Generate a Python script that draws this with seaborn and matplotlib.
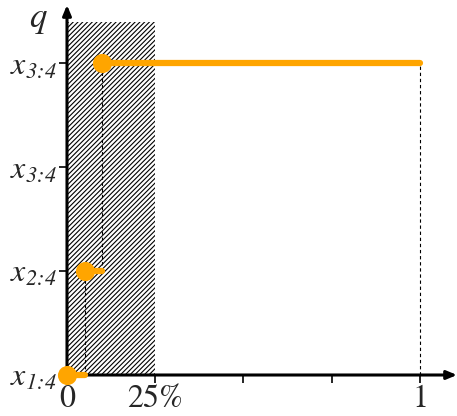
import matplotlib
matplotlib.use("Agg")
import matplotlib.pyplot as plt
import seaborn as sns
import pandas as pd

# data
seg_start = [0.0, 0.05, 0.10]
seg_end = [0.05, 0.10, 1.00]
seg_level = [0, 1, 3]
ytick_pos = [0, 1, 2, 3]
ytick_labels = [r"$x_{1\!:\!4}$", r"$x_{2\!:\!4}$", r"$x_{3\!:\!4}$", r"$x_{3\!:\!4}$"]
xtick_pos = [0, 0.25, 0.5, 0.75, 1.0]
xtick_labels = ["0", "25%", "", "", "1"]
shade_x = [0.0, 0.25]
shade_top = 3.4

sns.set_style("white")
plt.rcParams["font.family"] = ["STIXGeneral", "DejaVu Serif"]
plt.rcParams["mathtext.fontset"] = "custom"
plt.rcParams["mathtext.it"] = "STIXGeneral:italic"
plt.rcParams["mathtext.rm"] = "STIXGeneral:italic"
plt.rcParams["mathtext.default"] = "it"
plt.rcParams["hatch.linewidth"] = 0.8

W, H = 457, 416
fig = plt.figure(figsize=(W / 100, H / 100), dpi=100)
x0, y0 = 67, 375
xmax, ymax = 1.105, 3.56
ax = fig.add_axes([x0 / W, (H - y0) / H, (W - x0) / W, (y0 - 5) / H])
ax.set_xlim(0, xmax)
ax.set_ylim(0, ymax)
for s in ax.spines.values():
    s.set_visible(False)

# hatched region
ax.fill_between(shade_x, 0, shade_top, facecolor="white", edgecolor="black",
                hatch="/" * 7, linewidth=0, zorder=1)

# dashed guides
dash = dict(color="black", lw=0.8, ls=(0, (3, 2.5)), zorder=2)
for i in range(len(seg_start)):
    if i > 0:
        ax.plot([seg_start[i], seg_start[i]], [seg_level[i - 1], seg_level[i]], **dash)
ax.plot([seg_end[-1], seg_end[-1]], [0, seg_level[-1]], **dash)
n_dash = len(ax.lines)

# segments
rows = []
for k, (a, b, lv) in enumerate(zip(seg_start, seg_end, seg_level)):
    rows.append(dict(seg=k, x=a, y=lv))
    rows.append(dict(seg=k, x=b, y=lv))
df = pd.DataFrame(rows)
sns.lineplot(data=df, x="x", y="y", units="seg", estimator=None, color="#FFA500",
             lw=4.5, ax=ax, legend=False)
for l in ax.lines[n_dash:]:
    l.set_clip_on(False)
    l.set_zorder(6)
pts = pd.DataFrame(dict(x=seg_start, y=seg_level))
sns.scatterplot(data=pts, x="x", y="y", color="#FFA500", s=190, linewidth=0,
                ax=ax, legend=False)
ax.collections[-1].set_clip_on(False)
ax.collections[-1].set_zorder(7)

# axes arrows
for tgt in [(xmax, 0), (0, ymax)]:
    ax.annotate("", xy=tgt, xytext=(0, 0), xycoords="data",
                arrowprops=dict(arrowstyle="-|>,head_length=0.6,head_width=0.25", lw=2.2,
                                color="black", shrinkA=0, shrinkB=0),
                annotation_clip=False, zorder=5)

ax.set_xticks(xtick_pos)
ax.set_xticklabels(xtick_labels)
ax.set_yticks(ytick_pos)
ax.set_yticklabels(ytick_labels)
ax.tick_params(axis="both", direction="out", length=6, width=1.2, color="black",
               labelsize=23, pad=1, left=True, bottom=True)
ax.set_xlabel("")
ax.set_ylabel("")
fig.text(38 / W, 1 - 20 / H, "$q$", fontsize=25, ha="center", va="center")

fig.savefig("out.png", dpi=100)
